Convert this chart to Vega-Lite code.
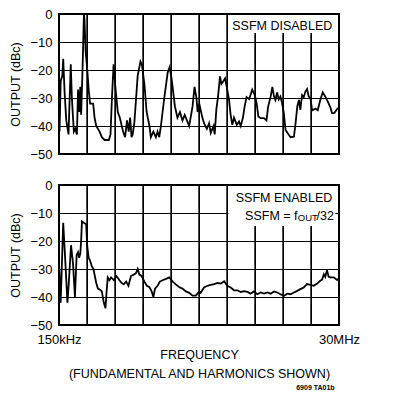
{
  "$schema": "https://vega.github.io/schema/vega-lite/v6.json",
  "padding": {"left": 8, "top": 7, "right": 5, "bottom": 2},
  "background": "white",
  "datasets": {
    "xgrid": [{"g": 1}, {"g": 2}, {"g": 3}, {"g": 4}, {"g": 5}, {"g": 6}, {"g": 7}, {"g": 8}, {"g": 9}],
    "disabled": [
      {"f": 0.00, "dbc": -22}, {"f": 0.02, "dbc": -42}, {"f": 0.06, "dbc": -24}, {"f": 0.12, "dbc": -22},
      {"f": 0.15, "dbc": -16}, {"f": 0.20, "dbc": -28}, {"f": 0.26, "dbc": -38}, {"f": 0.34, "dbc": -43},
      {"f": 0.42, "dbc": -18}, {"f": 0.46, "dbc": -30}, {"f": 0.53, "dbc": -42}, {"f": 0.58, "dbc": -41},
      {"f": 0.64, "dbc": -43}, {"f": 0.68, "dbc": -27}, {"f": 0.72, "dbc": -35}, {"f": 0.76, "dbc": -26},
      {"f": 0.79, "dbc": -36}, {"f": 0.84, "dbc": -20}, {"f": 0.89, "dbc": 0}, {"f": 0.91, "dbc": -2},
      {"f": 0.95, "dbc": -13}, {"f": 1.01, "dbc": -20}, {"f": 1.06, "dbc": -27}, {"f": 1.11, "dbc": -32},
      {"f": 1.22, "dbc": -32}, {"f": 1.27, "dbc": -37}, {"f": 1.33, "dbc": -40}, {"f": 1.45, "dbc": -42},
      {"f": 1.53, "dbc": -44}, {"f": 1.63, "dbc": -45}, {"f": 1.78, "dbc": -45}, {"f": 1.84, "dbc": -43},
      {"f": 1.89, "dbc": -30}, {"f": 1.95, "dbc": -18}, {"f": 1.98, "dbc": -22}, {"f": 2.03, "dbc": -28},
      {"f": 2.10, "dbc": -35}, {"f": 2.17, "dbc": -37}, {"f": 2.29, "dbc": -42}, {"f": 2.36, "dbc": -44},
      {"f": 2.43, "dbc": -38}, {"f": 2.49, "dbc": -42}, {"f": 2.54, "dbc": -37}, {"f": 2.59, "dbc": -44},
      {"f": 2.63, "dbc": -43}, {"f": 2.69, "dbc": -39}, {"f": 2.74, "dbc": -32}, {"f": 2.81, "dbc": -22},
      {"f": 2.91, "dbc": -17}, {"f": 2.96, "dbc": -18}, {"f": 3.05, "dbc": -25}, {"f": 3.13, "dbc": -35},
      {"f": 3.23, "dbc": -40}, {"f": 3.28, "dbc": -44}, {"f": 3.37, "dbc": -42}, {"f": 3.46, "dbc": -44},
      {"f": 3.52, "dbc": -42}, {"f": 3.58, "dbc": -44}, {"f": 3.64, "dbc": -40}, {"f": 3.76, "dbc": -30},
      {"f": 3.88, "dbc": -21}, {"f": 3.95, "dbc": -19}, {"f": 4.02, "dbc": -23}, {"f": 4.14, "dbc": -33},
      {"f": 4.23, "dbc": -37}, {"f": 4.32, "dbc": -35}, {"f": 4.41, "dbc": -38}, {"f": 4.49, "dbc": -36},
      {"f": 4.65, "dbc": -40}, {"f": 4.77, "dbc": -33}, {"f": 4.84, "dbc": -26}, {"f": 4.91, "dbc": -30},
      {"f": 4.95, "dbc": -35}, {"f": 5.01, "dbc": -32}, {"f": 5.12, "dbc": -37}, {"f": 5.18, "dbc": -39},
      {"f": 5.28, "dbc": -41}, {"f": 5.36, "dbc": -39}, {"f": 5.42, "dbc": -42.5}, {"f": 5.52, "dbc": -40},
      {"f": 5.56, "dbc": -43}, {"f": 5.62, "dbc": -34}, {"f": 5.68, "dbc": -29.5}, {"f": 5.75, "dbc": -22.3},
      {"f": 5.80, "dbc": -25}, {"f": 5.87, "dbc": -24}, {"f": 5.93, "dbc": -23}, {"f": 5.99, "dbc": -26},
      {"f": 6.07, "dbc": -30.5}, {"f": 6.13, "dbc": -36}, {"f": 6.19, "dbc": -39.6}, {"f": 6.25, "dbc": -37},
      {"f": 6.35, "dbc": -39.6}, {"f": 6.43, "dbc": -38.4}, {"f": 6.49, "dbc": -40}, {"f": 6.57, "dbc": -37},
      {"f": 6.63, "dbc": -33}, {"f": 6.70, "dbc": -29.7}, {"f": 6.79, "dbc": -30.4}, {"f": 6.84, "dbc": -28.9},
      {"f": 6.90, "dbc": -27}, {"f": 6.99, "dbc": -28.9}, {"f": 7.06, "dbc": -32}, {"f": 7.12, "dbc": -36.6},
      {"f": 7.20, "dbc": -37.2}, {"f": 7.32, "dbc": -37.2}, {"f": 7.41, "dbc": -38}, {"f": 7.47, "dbc": -33},
      {"f": 7.56, "dbc": -29.5}, {"f": 7.62, "dbc": -26}, {"f": 7.68, "dbc": -29.5}, {"f": 7.73, "dbc": -30.7},
      {"f": 7.79, "dbc": -28}, {"f": 7.85, "dbc": -30.5}, {"f": 7.91, "dbc": -29.5}, {"f": 7.97, "dbc": -31.9},
      {"f": 8.03, "dbc": -35.4}, {"f": 8.09, "dbc": -41.4}, {"f": 8.17, "dbc": -42.6}, {"f": 8.27, "dbc": -44},
      {"f": 8.39, "dbc": -43.8}, {"f": 8.45, "dbc": -39}, {"f": 8.51, "dbc": -33}, {"f": 8.57, "dbc": -30.7},
      {"f": 8.62, "dbc": -34.2}, {"f": 8.68, "dbc": -29}, {"f": 8.74, "dbc": -29.7}, {"f": 8.80, "dbc": -27.7},
      {"f": 8.86, "dbc": -26.8}, {"f": 8.92, "dbc": -29.5}, {"f": 8.98, "dbc": -30}, {"f": 9.04, "dbc": -34.4},
      {"f": 9.16, "dbc": -33.8}, {"f": 9.24, "dbc": -34.4}, {"f": 9.33, "dbc": -30.7}, {"f": 9.42, "dbc": -28},
      {"f": 9.51, "dbc": -29.5}, {"f": 9.60, "dbc": -31.3}, {"f": 9.69, "dbc": -33.3}, {"f": 9.75, "dbc": -35.4},
      {"f": 9.83, "dbc": -35.4}, {"f": 9.93, "dbc": -34}, {"f": 9.96, "dbc": -33.5}
    ],
    "enabled": [
      {"f": 0.00, "dbc": -28}, {"f": 0.06, "dbc": -42}, {"f": 0.15, "dbc": -13.5}, {"f": 0.24, "dbc": -30},
      {"f": 0.30, "dbc": -42}, {"f": 0.35, "dbc": -35}, {"f": 0.43, "dbc": -21.5}, {"f": 0.50, "dbc": -28},
      {"f": 0.57, "dbc": -40}, {"f": 0.63, "dbc": -25}, {"f": 0.68, "dbc": -24}, {"f": 0.72, "dbc": -26},
      {"f": 0.76, "dbc": -24.5}, {"f": 0.79, "dbc": -20}, {"f": 0.82, "dbc": -13}, {"f": 0.89, "dbc": -13.5},
      {"f": 0.97, "dbc": -14}, {"f": 1.01, "dbc": -22}, {"f": 1.06, "dbc": -26}, {"f": 1.11, "dbc": -27},
      {"f": 1.17, "dbc": -29}, {"f": 1.23, "dbc": -30}, {"f": 1.33, "dbc": -35}, {"f": 1.39, "dbc": -37},
      {"f": 1.48, "dbc": -37.5}, {"f": 1.53, "dbc": -38}, {"f": 1.60, "dbc": -42}, {"f": 1.66, "dbc": -44},
      {"f": 1.70, "dbc": -38}, {"f": 1.74, "dbc": -33}, {"f": 1.80, "dbc": -34}, {"f": 1.86, "dbc": -33},
      {"f": 1.96, "dbc": -34}, {"f": 2.05, "dbc": -32.5}, {"f": 2.16, "dbc": -34}, {"f": 2.24, "dbc": -35},
      {"f": 2.31, "dbc": -35.5}, {"f": 2.40, "dbc": -34.5}, {"f": 2.48, "dbc": -36}, {"f": 2.57, "dbc": -32.5},
      {"f": 2.67, "dbc": -32}, {"f": 2.75, "dbc": -31.5}, {"f": 2.81, "dbc": -30}, {"f": 2.87, "dbc": -32},
      {"f": 2.95, "dbc": -32.5}, {"f": 3.05, "dbc": -34.5}, {"f": 3.14, "dbc": -36}, {"f": 3.23, "dbc": -36.5},
      {"f": 3.31, "dbc": -38}, {"f": 3.37, "dbc": -40}, {"f": 3.43, "dbc": -37}, {"f": 3.52, "dbc": -36},
      {"f": 3.60, "dbc": -34.5}, {"f": 3.70, "dbc": -34}, {"f": 3.82, "dbc": -33.5}, {"f": 3.94, "dbc": -33},
      {"f": 4.06, "dbc": -34.5}, {"f": 4.17, "dbc": -35.5}, {"f": 4.30, "dbc": -36.5}, {"f": 4.41, "dbc": -37},
      {"f": 4.53, "dbc": -38}, {"f": 4.65, "dbc": -38.5}, {"f": 4.77, "dbc": -39.5}, {"f": 4.89, "dbc": -39.5},
      {"f": 5.01, "dbc": -38}, {"f": 5.06, "dbc": -38.5}, {"f": 5.18, "dbc": -36.6}, {"f": 5.30, "dbc": -36},
      {"f": 5.42, "dbc": -35.7}, {"f": 5.54, "dbc": -35.4}, {"f": 5.66, "dbc": -35}, {"f": 5.78, "dbc": -35.2},
      {"f": 5.90, "dbc": -34.4}, {"f": 6.01, "dbc": -36}, {"f": 6.13, "dbc": -36.6}, {"f": 6.25, "dbc": -37.6},
      {"f": 6.37, "dbc": -37.6}, {"f": 6.49, "dbc": -38.2}, {"f": 6.61, "dbc": -37.9}, {"f": 6.73, "dbc": -38.2},
      {"f": 6.84, "dbc": -38.8}, {"f": 6.96, "dbc": -38}, {"f": 7.08, "dbc": -39}, {"f": 7.20, "dbc": -38.4},
      {"f": 7.32, "dbc": -38.8}, {"f": 7.44, "dbc": -38.4}, {"f": 7.56, "dbc": -38.8}, {"f": 7.68, "dbc": -38},
      {"f": 7.79, "dbc": -38.4}, {"f": 7.91, "dbc": -39}, {"f": 8.03, "dbc": -39.6}, {"f": 8.15, "dbc": -38.8},
      {"f": 8.27, "dbc": -39}, {"f": 8.39, "dbc": -38.4}, {"f": 8.51, "dbc": -37.8}, {"f": 8.62, "dbc": -37.2},
      {"f": 8.74, "dbc": -36.6}, {"f": 8.86, "dbc": -35.4}, {"f": 8.98, "dbc": -35.7}, {"f": 9.10, "dbc": -36},
      {"f": 9.22, "dbc": -35.2}, {"f": 9.33, "dbc": -34.2}, {"f": 9.40, "dbc": -33.7}, {"f": 9.46, "dbc": -31.9},
      {"f": 9.51, "dbc": -32.8}, {"f": 9.57, "dbc": -30.4}, {"f": 9.63, "dbc": -32.8}, {"f": 9.69, "dbc": -33},
      {"f": 9.81, "dbc": -33}, {"f": 9.93, "dbc": -33.9}, {"f": 9.96, "dbc": -33.5}
    ]
  },
  "vconcat": [
    {
      "width": 280,
      "height": 140,
      "layer": [
        {
          "data": {"name": "xgrid"},
          "mark": {"type": "rule", "color": "black", "strokeWidth": 1.4},
          "encoding": {
            "x": {"field": "g", "type": "quantitative", "scale": {"domain": [0, 10], "nice": false},
                  "axis": {"values": [0,1,2,3,4,5,6,7,8,9,10], "labels": false, "title": null}},
            "y": {"datum": 0, "type": "quantitative", "scale": {"domain": [-50, 0], "nice": false},
                  "axis": {"values": [-50,-40,-30,-20,-10,0], "title": "OUTPUT (dBc)"}},
            "y2": {"datum": -50}
          }
        },
        {
          "data": {"name": "disabled"},
          "mark": {"type": "line", "color": "black", "strokeWidth": 1.8, "interpolate": "linear"},
          "encoding": {
            "x": {"field": "f", "type": "quantitative", "scale": {"domain": [0, 10], "nice": false},
                  "axis": {"values": [0,1,2,3,4,5,6,7,8,9,10], "labels": false, "title": null}},
            "y": {"field": "dbc", "type": "quantitative", "scale": {"domain": [-50, 0], "nice": false},
                  "axis": {"values": [-50,-40,-30,-20,-10,0], "title": "OUTPUT (dBc)"}}
          }
        },
        {
          "data": {"values": [{}]},
          "mark": {"type": "rect", "fill": "white"},
          "encoding": {
            "x": {"datum": 6.09, "type": "quantitative", "scale": {"domain": [0, 10], "nice": false},
                  "axis": {"values": [0,1,2,3,4,5,6,7,8,9,10], "labels": false, "title": null}},
            "x2": {"datum": 9.87},
            "y": {"datum": -0.4, "type": "quantitative", "scale": {"domain": [-50, 0], "nice": false},
                  "axis": {"values": [-50,-40,-30,-20,-10,0], "title": "OUTPUT (dBc)"}},
            "y2": {"datum": -6.8}
          }
        },
        {
          "data": {"values": [{}]},
          "mark": {"type": "text", "text": "SSFM DISABLED", "align": "right", "baseline": "middle", "fontSize": 12.5, "font": "Liberation Sans", "color": "black"},
          "encoding": {
            "x": {"datum": 9.76, "type": "quantitative", "scale": {"domain": [0, 10], "nice": false},
                  "axis": {"values": [0,1,2,3,4,5,6,7,8,9,10], "labels": false, "title": null}},
            "y": {"datum": -4.4, "type": "quantitative", "scale": {"domain": [-50, 0], "nice": false},
                  "axis": {"values": [-50,-40,-30,-20,-10,0], "title": "OUTPUT (dBc)"}}
          }
        }
      ]
    },
    {
      "width": 280,
      "height": 140,
      "layer": [
        {
          "data": {"name": "xgrid"},
          "mark": {"type": "rule", "color": "black", "strokeWidth": 1.4},
          "encoding": {
            "x": {"field": "g", "type": "quantitative", "scale": {"domain": [0, 10], "nice": false},
                  "axis": {"values": [0,1,2,3,4,5,6,7,8,9,10],
                           "labelExpr": "datum.value == 0 ? '150kHz' : (datum.value == 10 ? '30MHz' : '')",
                           "title": ["FREQUENCY", "(FUNDAMENTAL AND HARMONICS SHOWN)"]}},
            "y": {"datum": 0, "type": "quantitative", "scale": {"domain": [-50, 0], "nice": false},
                  "axis": {"values": [-50,-40,-30,-20,-10,0], "title": "OUTPUT (dBc)"}},
            "y2": {"datum": -50}
          }
        },
        {
          "data": {"name": "enabled"},
          "mark": {"type": "line", "color": "black", "strokeWidth": 1.8, "interpolate": "linear"},
          "encoding": {
            "x": {"field": "f", "type": "quantitative", "scale": {"domain": [0, 10], "nice": false},
                  "axis": {"values": [0,1,2,3,4,5,6,7,8,9,10],
                           "labelExpr": "datum.value == 0 ? '150kHz' : (datum.value == 10 ? '30MHz' : '')",
                           "title": ["FREQUENCY", "(FUNDAMENTAL AND HARMONICS SHOWN)"]}},
            "y": {"field": "dbc", "type": "quantitative", "scale": {"domain": [-50, 0], "nice": false},
                  "axis": {"values": [-50,-40,-30,-20,-10,0], "title": "OUTPUT (dBc)"}}
          }
        },
        {
          "data": {"values": [{}]},
          "mark": {"type": "rect", "fill": "white"},
          "encoding": {
            "x": {"datum": 6.05, "type": "quantitative", "scale": {"domain": [0, 10], "nice": false},
                  "axis": {"values": [0,1,2,3,4,5,6,7,8,9,10],
                           "labelExpr": "datum.value == 0 ? '150kHz' : (datum.value == 10 ? '30MHz' : '')",
                           "title": ["FREQUENCY", "(FUNDAMENTAL AND HARMONICS SHOWN)"]}},
            "x2": {"datum": 9.87},
            "y": {"datum": -0.4, "type": "quantitative", "scale": {"domain": [-50, 0], "nice": false},
                  "axis": {"values": [-50,-40,-30,-20,-10,0], "title": "OUTPUT (dBc)"}},
            "y2": {"datum": -14.6}
          }
        },
        {
          "data": {"values": [{}]},
          "mark": {"type": "text", "text": "SSFM ENABLED", "align": "right", "baseline": "middle", "fontSize": 12.5, "font": "Liberation Sans", "color": "black"},
          "encoding": {
            "x": {"datum": 9.76, "type": "quantitative", "scale": {"domain": [0, 10], "nice": false},
                  "axis": {"values": [0,1,2,3,4,5,6,7,8,9,10],
                           "labelExpr": "datum.value == 0 ? '150kHz' : (datum.value == 10 ? '30MHz' : '')",
                           "title": ["FREQUENCY", "(FUNDAMENTAL AND HARMONICS SHOWN)"]}},
            "y": {"datum": -4.8, "type": "quantitative", "scale": {"domain": [-50, 0], "nice": false},
                  "axis": {"values": [-50,-40,-30,-20,-10,0], "title": "OUTPUT (dBc)"}}
          }
        },
        {
          "data": {"values": [{}]},
          "mark": {"type": "text", "text": "SSFM = f", "align": "right", "baseline": "middle", "fontSize": 12.5, "font": "Liberation Sans", "color": "black"},
          "encoding": {
            "x": {"datum": 8.52, "type": "quantitative", "scale": {"domain": [0, 10], "nice": false},
                  "axis": {"values": [0,1,2,3,4,5,6,7,8,9,10],
                           "labelExpr": "datum.value == 0 ? '150kHz' : (datum.value == 10 ? '30MHz' : '')",
                           "title": ["FREQUENCY", "(FUNDAMENTAL AND HARMONICS SHOWN)"]}},
            "y": {"datum": -10.9, "type": "quantitative", "scale": {"domain": [-50, 0], "nice": false},
                  "axis": {"values": [-50,-40,-30,-20,-10,0], "title": "OUTPUT (dBc)"}}
          }
        },
        {
          "data": {"values": [{}]},
          "mark": {"type": "text", "text": "OUT", "align": "left", "baseline": "middle", "fontSize": 9.5, "font": "Liberation Sans", "color": "black"},
          "encoding": {
            "x": {"datum": 8.53, "type": "quantitative", "scale": {"domain": [0, 10], "nice": false},
                  "axis": {"values": [0,1,2,3,4,5,6,7,8,9,10],
                           "labelExpr": "datum.value == 0 ? '150kHz' : (datum.value == 10 ? '30MHz' : '')",
                           "title": ["FREQUENCY", "(FUNDAMENTAL AND HARMONICS SHOWN)"]}},
            "y": {"datum": -11.9, "type": "quantitative", "scale": {"domain": [-50, 0], "nice": false},
                  "axis": {"values": [-50,-40,-30,-20,-10,0], "title": "OUTPUT (dBc)"}}
          }
        },
        {
          "data": {"values": [{}]},
          "mark": {"type": "text", "text": "/32", "align": "left", "baseline": "middle", "fontSize": 12.5, "font": "Liberation Sans", "color": "black"},
          "encoding": {
            "x": {"datum": 9.2, "type": "quantitative", "scale": {"domain": [0, 10], "nice": false},
                  "axis": {"values": [0,1,2,3,4,5,6,7,8,9,10],
                           "labelExpr": "datum.value == 0 ? '150kHz' : (datum.value == 10 ? '30MHz' : '')",
                           "title": ["FREQUENCY", "(FUNDAMENTAL AND HARMONICS SHOWN)"]}},
            "y": {"datum": -10.9, "type": "quantitative", "scale": {"domain": [-50, 0], "nice": false},
                  "axis": {"values": [-50,-40,-30,-20,-10,0], "title": "OUTPUT (dBc)"}}
          }
        }
      ]
    }
  ],
  "spacing": 16,
  "title": {"text": "6909 TA01b", "orient": "bottom", "anchor": "end", "fontSize": 7, "fontWeight": "bold", "font": "Liberation Sans", "color": "black", "offset": 3, "dx": -26},
  "config": {
    "view": {"stroke": "black", "strokeWidth": 2},
    "font": "Liberation Sans",
    "axis": {
      "grid": true, "gridColor": "#000000", "gridOpacity": 1, "gridWidth": 1,
      "domain": false, "ticks": false, "labelOverlap": false,
      "labelFont": "Liberation Sans", "labelFontSize": 13, "labelColor": "black",
      "titleFont": "Liberation Sans", "titleFontSize": 12.5, "titleFontWeight": "normal", "titleColor": "black"
    },
    "axisY": {"labelPadding": 7, "titlePadding": 7},
    "axisX": {"labelPadding": 8, "titlePadding": 2, "titleLineHeight": 19, "labelFlush": false}
  }
}
